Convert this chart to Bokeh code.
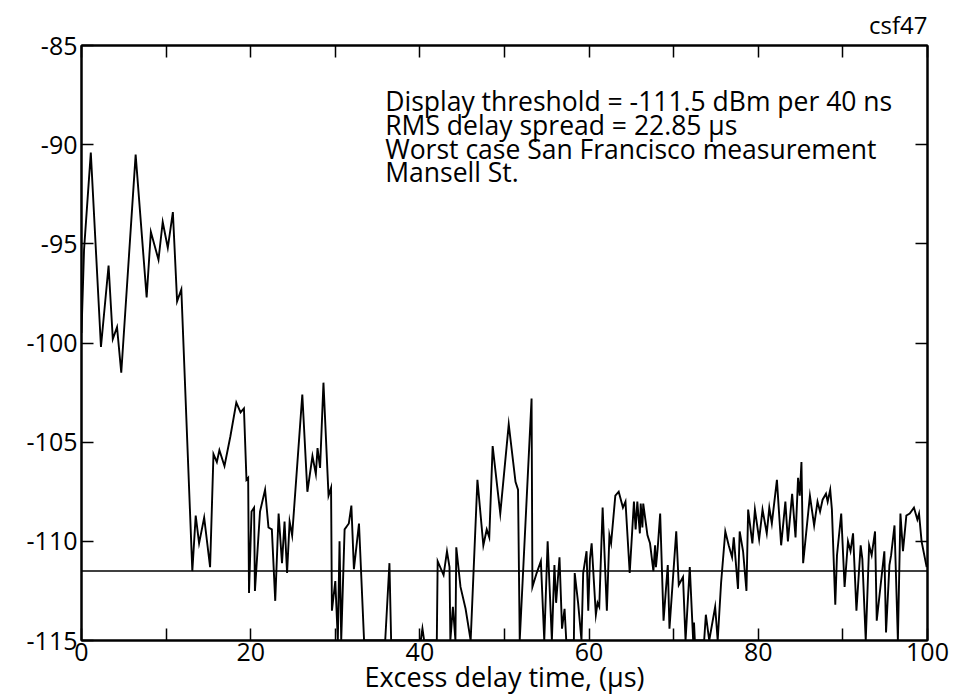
from bokeh.plotting import figure
from bokeh.models import LinearAxis, FixedTicker, Range1d, Label, Span, Title
from bokeh.embed import file_html
from bokeh.resources import INLINE

# Excess delay (microseconds) and received power (dBm per 40 ns); -115 = clipped at display floor
delay_us = [
    0.0, 0.3, 1.1, 2.3, 3.2, 3.7, 4.2, 4.7, 6.4, 7.7, 8.2, 9.1, 9.6, 10.2, 10.8, 11.3, 11.8,
    13.1, 13.5, 13.9, 14.5, 15.2, 15.6, 16.0, 16.3, 16.9, 17.6, 18.3, 18.8, 19.2, 19.5, 19.7,
    19.8, 20.1, 20.4, 20.5, 21.1, 21.7, 22.1, 22.5, 22.9, 23.3, 23.7, 24.0, 24.3, 24.6, 24.9,
    26.1, 26.7, 27.3, 27.7, 27.9, 28.2, 28.6, 29.2, 29.5, 29.6, 30.0, 30.3, 30.5, 30.7, 31.1,
    31.6, 31.9, 32.2, 32.8, 33.4, 35.9, 36.4, 36.6, 40.1, 40.3, 40.5, 42.0, 42.1, 42.8, 43.2,
    43.5, 43.6, 43.9, 44.2, 44.3, 44.8, 45.4, 46.0, 46.8, 47.5, 47.9, 48.2, 48.6, 49.5, 50.5,
    51.3, 51.6, 51.8, 53.2, 53.3, 53.8, 54.3, 54.7, 55.1, 55.6, 55.9, 56.1, 56.5, 56.8, 57.1,
    57.3, 58.2, 58.3, 58.7, 59.1, 59.3, 59.7, 59.9, 60.1, 60.3, 60.8, 61.0, 61.2, 61.6, 62.1,
    62.4, 62.6, 63.1, 63.5, 64.0, 64.3, 64.8, 65.3, 65.5, 65.7, 66.0, 66.1, 66.3, 66.4, 66.9,
    67.2, 67.6, 67.8, 67.9, 68.1, 68.4, 68.8, 69.3, 69.5, 70.3, 70.6, 71.1, 71.4, 71.9, 72.3,
    72.4, 72.5, 73.6, 73.8, 74.2, 74.9, 75.2, 75.6, 76.1, 76.5, 76.9, 77.1, 77.6, 77.8, 78.2,
    78.6, 78.8, 79.3, 79.6, 80.1, 80.5, 81.0, 81.3, 81.6, 82.2, 82.7, 83.2, 83.5, 84.0, 84.4,
    84.7, 84.9, 85.1, 85.3, 86.1, 86.6, 87.0, 87.3, 87.6, 88.0, 88.2, 88.5, 88.7, 89.1, 89.3,
    89.8, 90.2, 90.6, 90.9, 91.2, 91.6, 92.1, 92.3, 92.7, 93.1, 93.4, 93.8, 94.0, 94.9, 95.1,
    95.5, 95.7, 96.1, 96.5, 96.8, 97.1, 97.5, 97.9, 98.4, 98.8, 99.0, 99.3, 99.9,
]
power_dbm = [
    -99.5, -95.3, -90.4, -100.2, -96.1, -99.8, -99.2, -101.5, -90.5, -97.7, -94.4, -95.8, -93.9, -95.2, -93.4, -97.9, -97.3,
    -111.5, -108.7, -110.1, -108.8, -111.3, -105.6, -106.0, -105.4, -106.2, -104.7, -103.0, -103.5, -103.3, -106.9, -106.8,
    -112.6, -108.5, -108.3, -112.5, -108.5, -107.4, -109.3, -109.4, -113.0, -108.6, -111.1, -109.0, -111.6, -109.0, -109.7,
    -102.6, -107.5, -105.7, -106.6, -105.3, -106.3, -102.0, -107.7, -107.3, -113.5, -112.0, -115.0, -110.0, -115.0, -109.4,
    -109.1, -108.2, -111.4, -109.1, -115.0, -115.0, -111.1, -115.0, -115.0, -114.4, -115.0, -115.0, -111.0, -111.7, -110.5,
    -111.3, -115.0, -113.3, -115.0, -110.3, -112.3, -113.4, -115.0, -106.9, -110.2, -109.4, -109.8, -105.2, -108.6, -104.1,
    -107.0, -107.4, -115.0, -102.8, -112.3, -111.6, -111.0, -115.0, -110.0, -115.0, -111.2, -113.1, -110.8, -114.4, -113.4,
    -115.0, -115.0, -111.6, -113.1, -115.0, -111.6, -110.5, -113.5, -110.9, -110.1, -113.7, -113.1, -113.3, -108.3, -113.5,
    -109.7, -110.1, -107.7, -107.5, -108.3, -108.0, -111.6, -108.0, -109.4, -108.0, -109.6, -108.1, -109.3, -108.1, -109.7,
    -110.1, -111.5, -110.2, -111.3, -110.4, -108.6, -114.0, -111.2, -114.4, -109.5, -112.2, -111.8, -115.0, -111.3, -115.0,
    -114.1, -115.0, -115.0, -113.7, -115.0, -113.3, -115.0, -112.1, -109.5, -110.2, -110.8, -109.8, -112.4, -109.5, -110.5,
    -112.5, -108.4, -110.1, -108.4, -109.9, -108.4, -109.6, -108.3, -109.1, -106.9, -110.2, -108.0, -110.0, -107.6, -109.8,
    -106.8, -107.7, -106.0, -111.1, -107.7, -109.2, -108.0, -108.5, -107.9, -107.6, -108.0, -107.4, -108.4, -113.2, -110.7,
    -108.6, -112.3, -110.0, -110.5, -109.6, -113.5, -110.2, -110.9, -115.0, -110.2, -110.7, -109.5, -114.0, -110.5, -114.6,
    -111.2, -110.7, -109.2, -115.0, -108.6, -110.5, -108.7, -108.6, -108.3, -108.9, -108.6, -110.0, -111.3,
]
threshold_dbm = -111.5
x_label_ticks = [0, 20, 40, 60, 80, 100]
x_minor_ticks = [10, 30, 50, 70, 90]
x_all_ticks = [0, 10, 20, 30, 40, 50, 60, 70, 80, 90, 100]
y_ticks = [-115, -110, -105, -100, -95, -90, -85]
y_inner_ticks = [-110, -105, -100, -95, -90]
notes = [
    "Display threshold = -111.5 dBm per 40 ns",
    "RMS delay spread = 22.85 \u03bcs",
    "Worst case San Francisco measurement",
    "Mansell St.",
]
x_title = "Excess delay time, (\u03bcs)"
fig_id = "csf47"

FONT = "Open Sans"
FS = "25px"

p = figure(width=953, height=697, output_backend="svg", toolbar_location=None,
           x_range=Range1d(0, 100), y_range=Range1d(-115, -85),
           x_axis_location=None, y_axis_location=None,
           min_border_left=81, min_border_right=26, min_border_top=44, min_border_bottom=57)
p.grid.visible = False
p.outline_line_color = "black"
p.outline_line_width = 2
p.background_fill_color = "white"
p.border_fill_color = "white"


def style(ax):
    ax.major_tick_in = 12
    ax.major_tick_out = 0
    ax.minor_tick_in = 12
    ax.minor_tick_out = 0
    ax.axis_line_width = 2
    ax.major_tick_line_width = 1.5
    ax.minor_tick_line_width = 1.5
    ax.major_label_text_font = FONT
    ax.major_label_text_font_size = FS
    ax.major_label_text_color = "black"


left = LinearAxis(ticker=FixedTicker(ticks=y_ticks))
style(left)
left.major_label_standoff = 4
left.major_label_overrides = {t: str(t) for t in y_ticks}
p.add_layout(left, "left")

# right and top frames carry tick marks only (minor ticks have no labels)
right = LinearAxis(ticker=FixedTicker(ticks=[], minor_ticks=y_inner_ticks))
style(right)
p.add_layout(right, "right")

top = LinearAxis(ticker=FixedTicker(ticks=[], minor_ticks=x_all_ticks))
style(top)
p.add_layout(top, "above")

bottom = LinearAxis(ticker=FixedTicker(ticks=x_label_ticks, minor_ticks=x_minor_ticks))
style(bottom)
bottom.major_label_standoff = 2
bottom.axis_label = x_title
bottom.axis_label_text_font = FONT
bottom.axis_label_text_font_size = "27px"
bottom.axis_label_text_font_style = "normal"
bottom.axis_label_text_color = "black"
bottom.axis_label_standoff = -6
p.add_layout(bottom, "below")

p.add_layout(Title(text=fig_id, align="right", text_font=FONT, text_font_size="24px",
                   text_font_style="normal", text_color="black", standoff=10), "above")

p.add_layout(Span(location=threshold_dbm, dimension="width", line_color="black", line_width=1.5))
p.line(delay_us, power_dbm, line_color="black", line_width=1.9, line_join="miter")

note_x = 35.9
note_y0 = -87.8
note_dy = 1.2
for i, t in enumerate(notes):
    p.add_layout(Label(x=note_x, y=note_y0 - i * note_dy, text=t, text_font=FONT,
                       text_font_size="26.5px", text_baseline="middle", text_align="left",
                       text_color="black"))

open("out.html", "w").write(file_html(p, INLINE))
